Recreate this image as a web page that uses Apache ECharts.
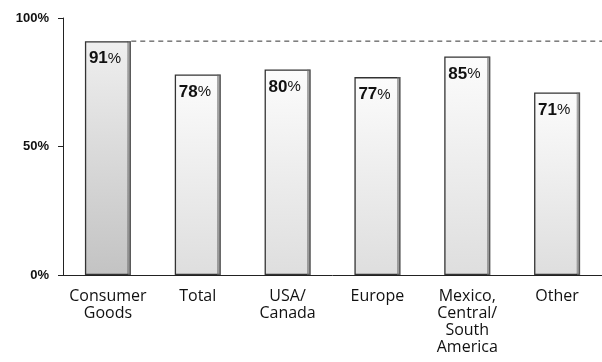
<!DOCTYPE html>
<html>
<head>
<meta charset="utf-8">
<script src="https://cdn.jsdelivr.net/npm/echarts@6/dist/echarts.min.js"></script>
<style>
  html, body { margin: 0; padding: 0; background: #fff; }
  #chart { width: 602px; height: 362px; }
</style>
</head>
<body>
<div id="chart"></div>
<script>
// Share of respondents by segment (percent)
const categories = ['Consumer\nGoods', 'Total', 'USA/\nCanada', 'Europe', 'Mexico,\nCentral/\nSouth\nAmerica', 'Other'];
const values = [91, 78, 80, 77, 85, 71];
const yTicks = [0, 50, 100];
const referenceLevel = 91;       // dashed benchmark line, set by the first bar
const highlightIndex = 0;        // the benchmark bar is shaded darker

const chart = echarts.init(document.getElementById('chart'), null, { renderer: 'canvas' });

function fillFor(i) {
  const dark = i === highlightIndex;
  return new echarts.graphic.LinearGradient(0, 0, 0, 1, [
    { offset: 0, color: dark ? '#efefef' : '#fcfcfc' },
    { offset: 1, color: dark ? '#c3c3c3' : '#dedede' }
  ]);
}

// thin darker strip along the right edge of each bar
const edgeShade = new echarts.graphic.LinearGradient(0, 0, 1, 0, [
  { offset: 0, color: 'rgba(0,0,0,0)' },
  { offset: 0.92, color: 'rgba(0,0,0,0)' },
  { offset: 0.93, color: 'rgba(110,110,110,0.6)' },
  { offset: 1, color: 'rgba(110,110,110,0.6)' }
]);

chart.setOption({
  animation: false,
  grid: { left: 63, right: -3, top: 18, bottom: 87 },
  xAxis: [
    {
      type: 'category',
      data: categories,
      axisLine: { lineStyle: { color: '#222', width: 1 } },
      axisTick: { show: false },
      axisLabel: {
        interval: 0,
        color: '#111',
        fontFamily: 'Open Sans',
        fontSize: 16,
        lineHeight: 17,
        margin: 13
      }
    },
    {
      type: 'value', min: 0, max: categories.length, show: false
    }
  ],
  yAxis: {
    type: 'value',
    min: 0,
    max: 100,
    interval: 50,
    splitLine: { show: false },
    axisLine: { show: true, lineStyle: { color: '#222', width: 1 } },
    axisTick: { show: true, length: 5, lineStyle: { color: '#222' } },
    axisLabel: {
      color: '#111',
      fontFamily: 'Liberation Sans',
      fontWeight: 'bold',
      fontSize: 13,
      margin: 14,
      formatter: v => yTicks.includes(v) ? v + '%' : ''
    }
  },
  series: [
    {
      type: 'line',
      xAxisIndex: 1,
      z: 1,
      symbol: 'none',
      silent: true,
      lineStyle: { color: '#333', width: 1, type: [5, 4] },
      data: [[0.76, referenceLevel], [categories.length, referenceLevel]]
    },
    {
      type: 'bar',
      z: 3,
      barWidth: 46,
      data: values.map((v, i) => ({
        value: v,
        itemStyle: { color: fillFor(i), borderColor: '#333', borderWidth: 1.3 }
      })),
      label: {
        show: true,
        position: 'insideTopLeft',
        offset: [-1, 4],
        formatter: p => '{n|' + p.value + '}{p|%}',
        rich: {
          n: { fontFamily: 'Liberation Sans', fontWeight: 'bold', fontSize: 17, color: '#111' },
          p: { fontFamily: 'Liberation Sans', fontWeight: 'normal', fontSize: 15, color: '#111' }
        }
      }
    },
    {
      type: 'bar',
      z: 4,
      barWidth: 46,
      barGap: '-100%',
      silent: true,
      data: values,
      itemStyle: { color: edgeShade }
    }
  ]
});
</script>
</body>
</html>
